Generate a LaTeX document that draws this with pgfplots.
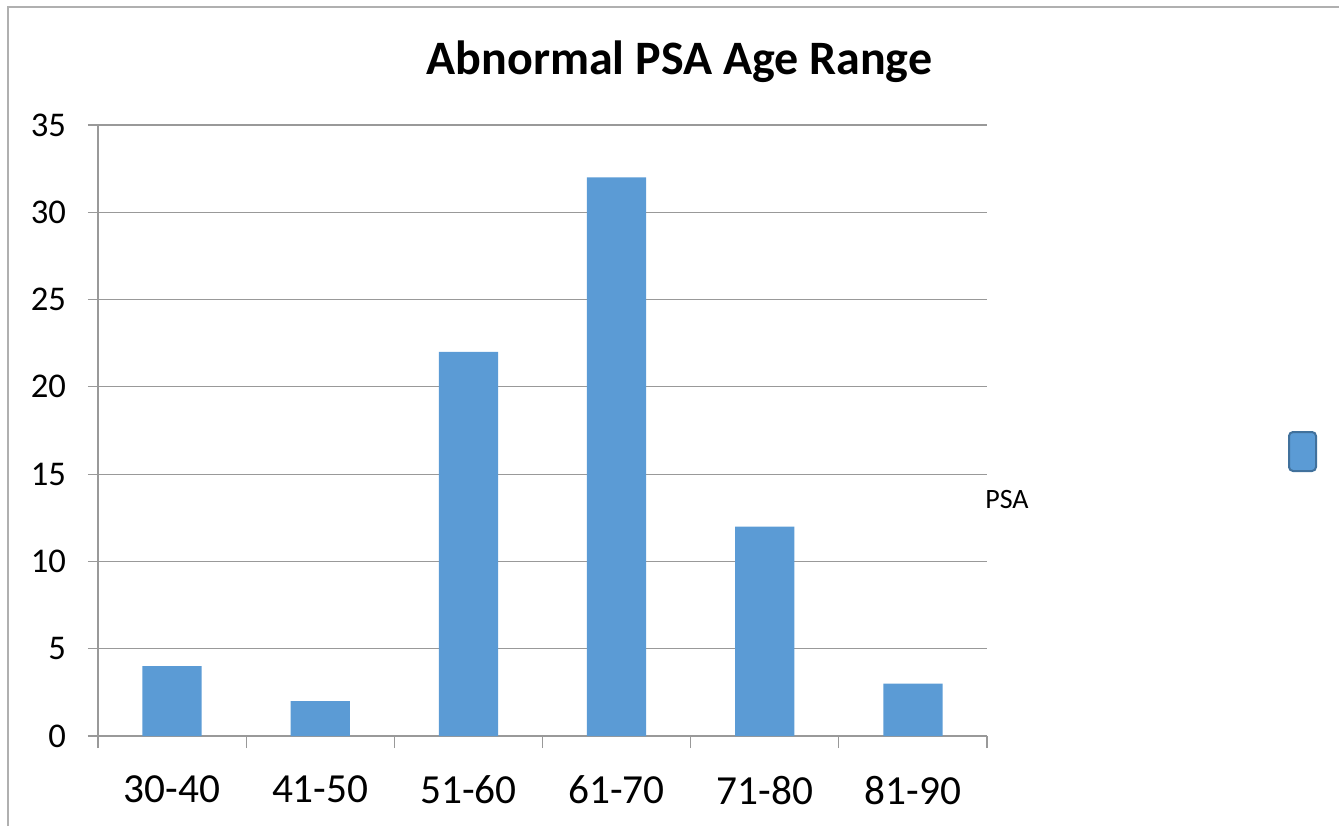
\documentclass[border=0pt]{standalone}
\usepackage{pgfplots}
\pgfplotsset{compat=1.18}
\usepackage{fontspec}
\setmainfont{Carlito}
\definecolor{barblue}{HTML}{5B9BD5}
\definecolor{baredge}{HTML}{41719C}
\definecolor{gridgray}{HTML}{999999}
\definecolor{framegray}{HTML}{B0B0B0}
\begin{document}
\begin{tikzpicture}[x=0.75pt,y=0.75pt]
\useasboundingbox (0,0) rectangle (1339,826);
\draw[framegray, line width=1.2pt] (8,0) -- (8,819) -- (1339,819);
\begin{axis}[
  at={(73.5pt,67.5pt)}, anchor=south west,
  scale only axis, width=666.75pt, height=458.25pt,
  xmin=0, xmax=6, ymin=0, ymax=35,
  axis x line*=bottom, axis y line*=left,
  axis line style={draw=gridgray, line width=0.9pt},
  ytick={0,5,...,35},
  ymajorgrids, grid style={draw=gridgray, line width=0.9pt},
  xtick={0.5,1.5,...,5.5},
  xticklabels={30-40,41-50,51-60,61-70,71-80,81-90},
  minor xtick={0,1,...,6},
  major x tick style={draw=none},
  minor x tick style={draw=gridgray, line width=0.9pt},
  y tick style={draw=gridgray, line width=0.9pt},
  tick align=outside,
  major tick length=7.5pt, minor tick length=9pt,
  /pgf/number format/assume math mode=true,
  yticklabel style={font=\fontsize{26}{30}\selectfont, text=black, xshift=-13pt},
  xticklabel style={font=\fontsize{31}{36}\selectfont, text=black, yshift=-19pt},
  ybar, bar width=0.4,
  clip=false,
]
\addplot[fill=barblue, draw=none] coordinates {(0.5,4) (1.5,2) (2.5,22) (3.5,32) (4.5,12) (5.5,3)};
\end{axis}
\node[anchor=base, font=\fontsize{36}{40}\selectfont\bfseries] at (679.5,751) {Abnormal PSA Age Range};
\draw[baredge, line width=1.5pt, fill=barblue, rounded corners=3pt] (1289,355) rectangle (1316,394);
\node[font=\fontsize{21}{24}\selectfont] at (1007,326) {PSA};
\end{tikzpicture}
\end{document}
